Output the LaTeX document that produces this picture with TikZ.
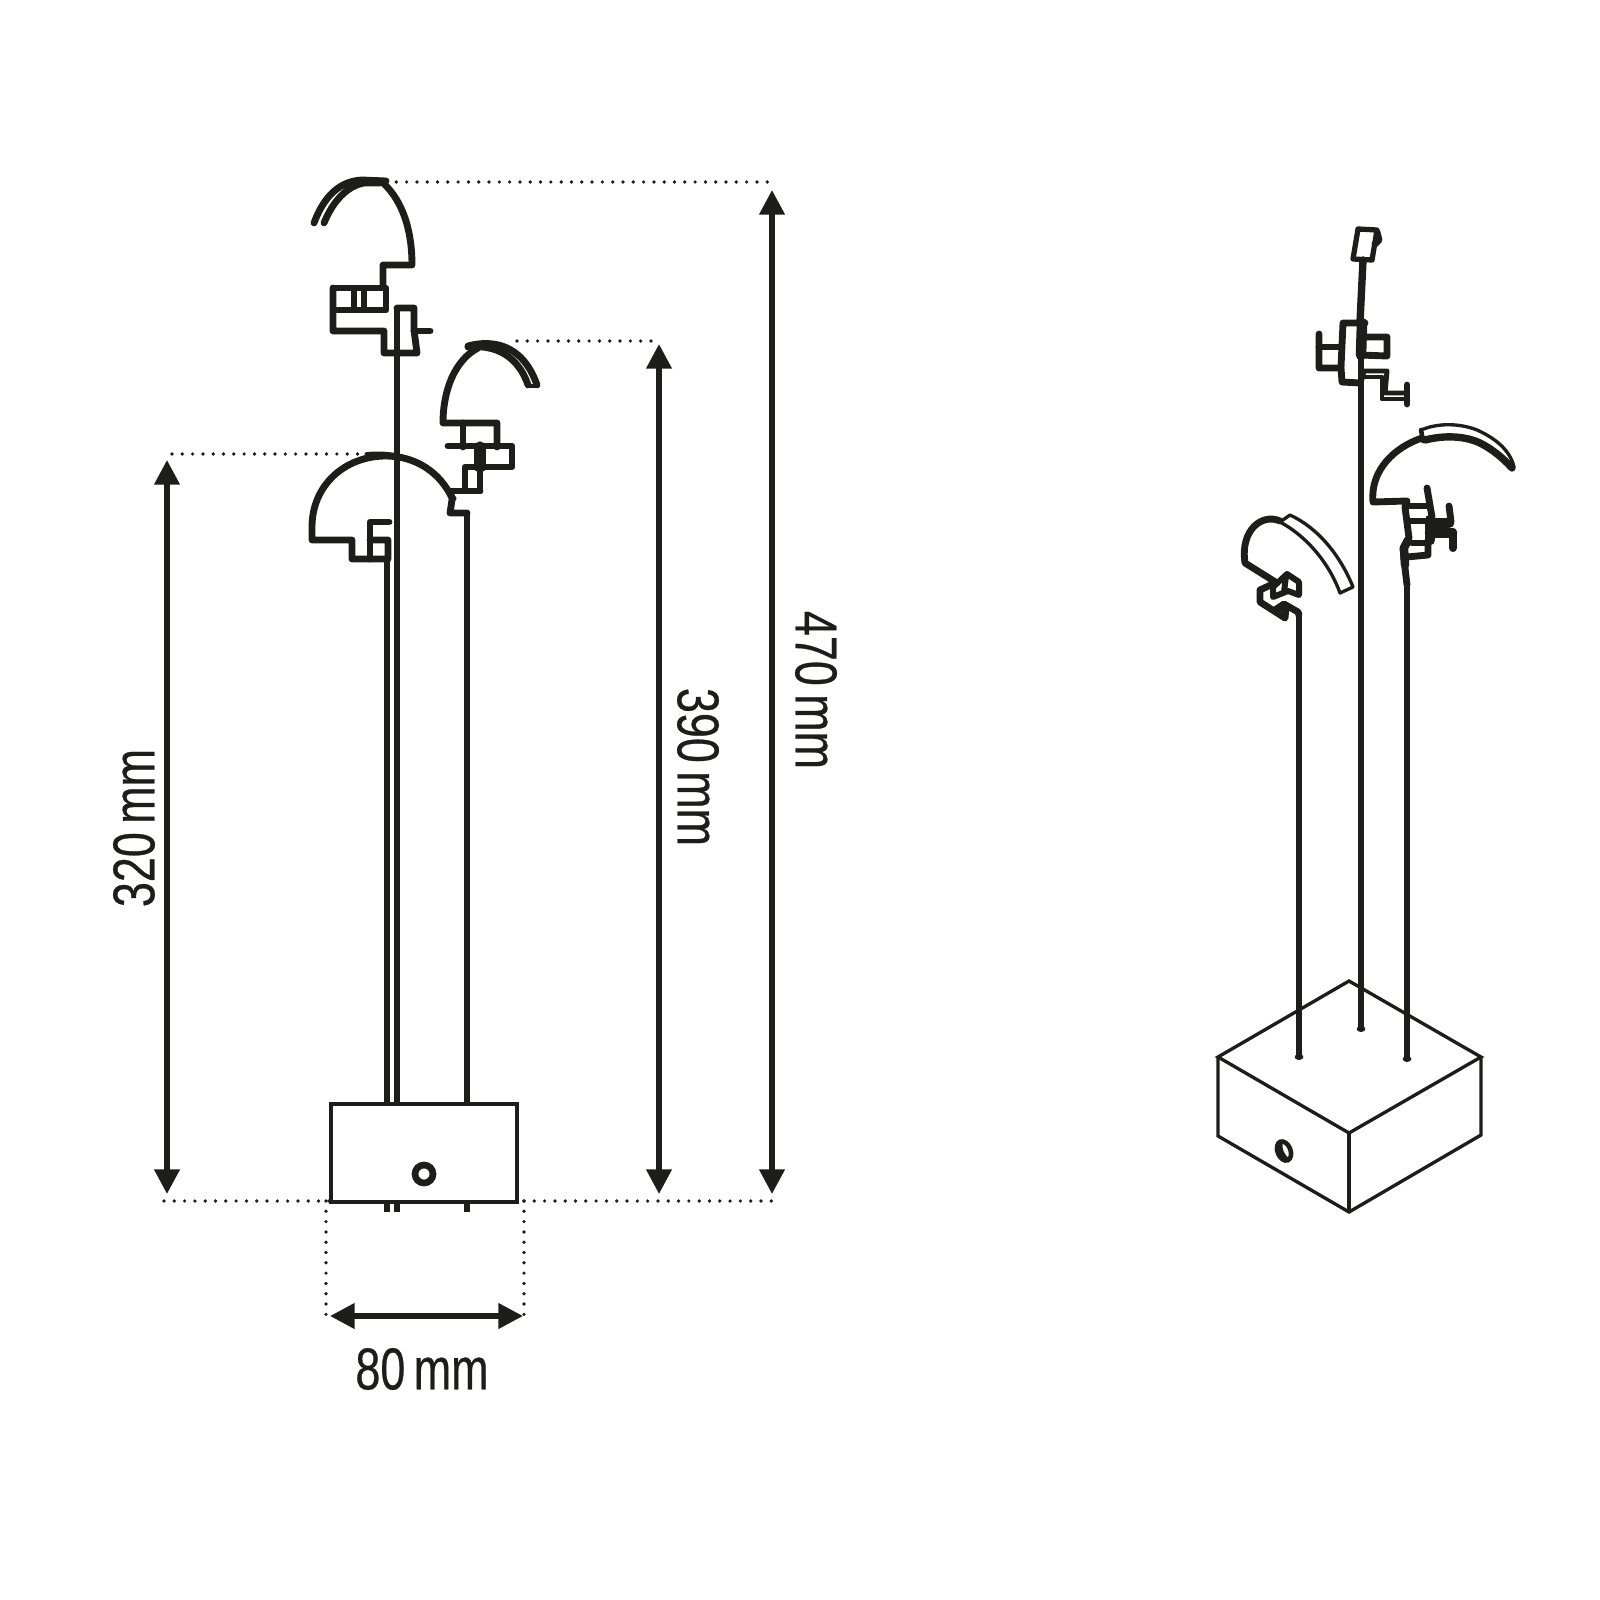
\documentclass[tikz,border=0pt]{standalone}
\usepackage{fontspec}
\usetikzlibrary{arrows.meta}
\newfontfamily\dimfont[FakeStretch=0.76,FakeBold=0.45]{Liberation Sans}
\definecolor{ink}{HTML}{1D1D1B}
\tikzset{
  lamp/.style={draw=ink,line width=1.95pt,line join=round,line cap=round,fill=none},
  stem/.style={draw=ink,line width=1.95pt,line cap=butt},
  fine/.style={draw=ink,line width=0.95pt,line join=round,line cap=round},
  base/.style={draw=ink,line width=0.95pt,line join=miter},
  dots/.style={draw=ink,line width=1.05pt,line cap=round,dash pattern=on 0pt off 2.93pt},
  dimline/.style={draw=ink,line width=1.5pt,{Triangle[length=7pt,width=7pt]}-{Triangle[length=7pt,width=7pt]}},
  dimtext/.style={text=ink,inner sep=0pt,font=\dimfont\fontsize{16.8}{18}\selectfont},
}
\newcommand{\mmgap}{\hspace{2.4pt}}
\begin{document}
\begin{tikzpicture}[x=0.01cm,y=-0.01cm]
\useasboundingbox (0,0) rectangle (1600,1600);
% named anchors for the dimensions
\coordinate (a1t) at (167,460); \coordinate (a1b) at (167,1194);
\coordinate (a2t) at (659,344); \coordinate (a2b) at (659,1194);
\coordinate (a3t) at (772,190); \coordinate (a3b) at (772,1194);
\coordinate (a4l) at (330,1316); \coordinate (a4r) at (523,1316);
% dotted guides
\coordinate (d1a) at (386,182); \coordinate (d1b) at (770,182);
\coordinate (d2a) at (517,341); \coordinate (d2b) at (661,341);
\coordinate (d3a) at (172,454); \coordinate (d3b) at (358,454);
\coordinate (d4a) at (164,1201); \coordinate (d4b) at (330,1201);
\coordinate (d5a) at (524,1201); \coordinate (d5b) at (773,1201);
\coordinate (d6a) at (326,1201); \coordinate (d6b) at (326,1316);
\coordinate (d7a) at (524,1201); \coordinate (d7b) at (524,1316);
\draw[dots] (d1a) -- (d1b);
\draw[dots] (d2a) -- (d2b);
\draw[dots] (d3a) -- (d3b);
\draw[dots] (d4a) -- (d4b);
\draw[dots] (d5a) -- (d5b);
\draw[dots] (d6a) -- (d6b);
\draw[dots] (d7a) -- (d7b);
\draw[dimline] (a1t) -- (a1b);
\draw[dimline] (a2t) -- (a2b);
\draw[dimline] (a3t) -- (a3b);
\draw[dimline] (a4l) -- (a4r);
\node[dimtext,rotate=90] (t320) at (134,828) {320\mmgap mm};
\node[dimtext,rotate=-90] (t390) at (698,767) {390\mmgap mm};
\node[dimtext,rotate=-90] (t470) at (816,690) {470\mmgap mm};
\node[dimtext] (t80) at (422,1369) {80\mmgap mm};

% ---- front view: stems and base
\draw[stem] (387,559) -- (387,1105) (387,1202) -- (387,1212);
\draw[stem,line width=1.7pt] (397,308) -- (397,1105) (397,1202) -- (397,1212);
\draw[stem] (467,513) -- (467,1105) (467,1202) -- (467,1212);
\draw[base] (331,1104) rectangle (517,1202);
\draw[draw=ink,line width=1.9pt] (424,1174) circle (9);

% top head
\draw[lamp] (314,223) .. controls (324,196) and (340,181) .. (362,180) -- (386,181);
\draw[lamp] (324,223) .. controls (333,201) and (347,186) .. (364,183) -- (380,183);
\draw[lamp] (382,182) .. controls (398,196) and (412,222) .. (412,265) -- (383,265) -- (383,287);
\draw[lamp] (333,288) rectangle (386,310);
\draw[lamp,line width=1.6pt] (354,288) -- (354,310) (364,288) -- (364,310);
\draw[lamp] (333,288) -- (333,331) -- (384,331) -- (384,353) -- (417,353) -- (414,330) -- (414,308) -- (397,308);
\draw[lamp] (414,331) -- (430,331);

% middle head
\draw[lamp] (468,346) .. controls (490,340) and (522,342) .. (537,385);
\draw[lamp] (468,347) .. controls (488,345) and (516,350) .. (528,385);
\draw[lamp,line width=1.2pt] (528,386) -- (537,386);
\draw[lamp] (478,348) .. controls (455,360) and (443,390) .. (443,423) -- (497,423) -- (497,447);
\draw[lamp] (463,423) -- (463,447);
\draw[lamp] (448,446) -- (512,446) -- (512,467) -- (480,467);
\draw[lamp,line width=3.2pt] (480,447) -- (480,467);
\draw[lamp] (480,467) -- (480,491) -- (465,491) -- (465,467) -- (480,467);
\draw[lamp] (480,491) -- (450,491);

% lower head
\draw[lamp] (452,498) .. controls (440,472) and (415,456) .. (386,456) .. controls (345,456) and (312,485) .. (312,527) -- (312,540) -- (352,540) -- (352,559) -- (388,559) -- (388,540) -- (370,540);
\draw[lamp,line width=1pt] (366,454) .. controls (398,450) and (434,462) .. (455,499);
\draw[lamp] (452,500) -- (450,513) -- (467,513);
\draw[lamp] (389,522) -- (370,522) -- (370,559);

% ---- isometric view: base
\draw[base] (1349,981) -- (1481,1057) -- (1349,1133) -- (1218,1057) -- cycle;
\draw[base] (1218,1057) -- (1218,1136) -- (1349,1212) -- (1481,1135) -- (1481,1057);
\draw[base] (1349,1133) -- (1349,1212);
\draw[draw=ink,line width=1.3pt,rotate around={22:(1284,1151)}] (1284,1151) ellipse (6.5 and 10);
\draw[draw=ink,line width=1.5pt] (1280,1143) .. controls (1279,1150) and (1282,1156) .. (1287,1160);
% stems
\draw[stem] (1299,612) -- (1299,1057);
\draw[stem] (1361,355) -- (1361,1029);
\draw[stem] (1407,585) -- (1407,1059);
\fill[ink] (1299,1057) ellipse (4.4 and 3);
\fill[ink] (1361,1029) ellipse (4.4 and 3);
\fill[ink] (1407,1059) ellipse (4.4 and 3);

% top iso head
\draw[lamp,line width=1.5pt] (1358,229) -- (1377,230) -- (1372,260) -- (1353,259) -- cycle;
\draw[lamp] (1377,232) -- (1379,240) -- (1375,244);
\draw[lamp,line width=2.1pt] (1363,260) -- (1360,322);
\draw[lamp] (1341,367) -- (1343,323) -- (1365,323);
\draw[lamp,line width=3pt] (1362,323) -- (1361,355);
\draw[lamp] (1365,337) -- (1387,337) -- (1387,356) -- (1360,355);
\draw[lamp] (1319,334) -- (1319,368) -- (1341,368) -- (1342,382) -- (1360,383);
\draw[lamp] (1319,347) -- (1341,347);
\draw[lamp,line width=1.4pt] (1361,383) -- (1364,371) -- (1387,371) -- (1386,382) -- (1385,393) -- (1407,393);
\draw[lamp,line width=1.4pt] (1364,377) -- (1382,377) -- (1382,399) -- (1407,399);
\draw[lamp] (1407,385) -- (1407,404);

% right iso head
\draw[fine] (1421,430) .. controls (1440,422) and (1462,424) .. (1477,430) .. controls (1495,438) and (1510,450) .. (1514,467);
\draw[lamp,line width=2.1pt] (1425,440) .. controls (1445,435) and (1465,436) .. (1480,443) .. controls (1492,449) and (1503,458) .. (1512,468);
\draw[fine,line width=1.3pt] (1421,430) -- (1423,441);
\draw[lamp] (1422,438) .. controls (1395,447) and (1370,470) .. (1373,502) -- (1407,501) -- (1405,507) -- (1409,538) -- (1403,548) -- (1405,568) -- (1407,585);
\draw[lamp,line width=2.4pt] (1408,540) -- (1404,548) -- (1405,565);
\draw[lamp] (1407,506) -- (1427,506);
\draw[lamp] (1427,488) -- (1432,517);
\draw[lamp] (1410,521) -- (1450,521);
\draw[lamp] (1449,506) -- (1451,522);
\draw[lamp,line width=3pt] (1430,523) -- (1449,523);
\draw[lamp,line width=3pt] (1430,533) -- (1452,533);
\draw[lamp,line width=2.3pt] (1453,532) -- (1453,548);
\draw[lamp,line width=3pt] (1430,520) -- (1430,540);
\draw[lamp] (1428,540) -- (1428,555) -- (1407,557);
\draw[lamp] (1412,543) -- (1428,543);

% left iso head
\draw[fine] (1280,522) -- (1290,515) .. controls (1318,528) and (1340,555) .. (1353,587) -- (1340,593) .. controls (1330,565) and (1308,537) .. (1280,522);
\draw[lamp] (1280,521) .. controls (1262,513) and (1240,530) .. (1245,563) -- (1277,583);
\draw[lamp,line width=1.7pt] (1287,574) -- (1299,582) -- (1299,595) -- (1288,591) -- (1273,597) -- (1273,587) -- cycle;
\draw[lamp,line width=1.7pt] (1286,576) -- (1284,592);
\draw[lamp] (1275,583) -- (1260,590) -- (1260,602) -- (1285,618) -- (1286,606) -- (1275,610) -- (1284,604) -- (1298,612) -- (1299,615);
\end{tikzpicture}
\end{document}
